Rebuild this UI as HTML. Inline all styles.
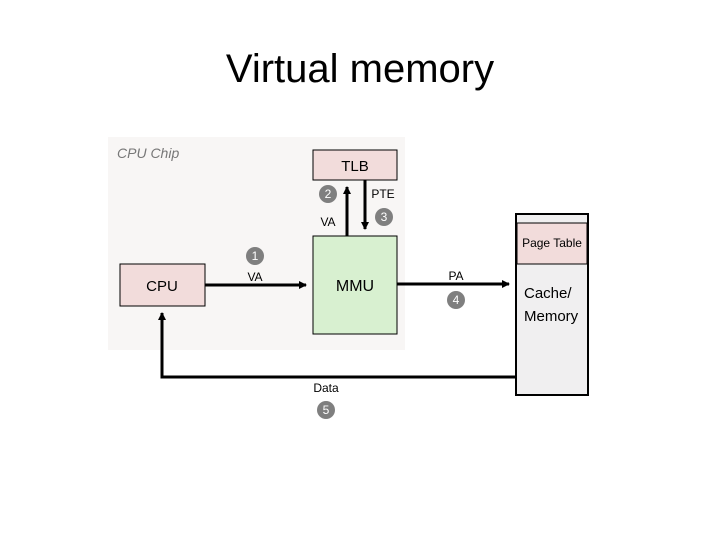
<!DOCTYPE html>
<html><head><style>body{margin:0;background:#fff}</style></head><body>
<svg width="720" height="540" xmlns="http://www.w3.org/2000/svg" font-family="Liberation Sans, sans-serif">
<defs><marker id="a" markerWidth="8" markerHeight="8" refX="7" refY="4" orient="auto" markerUnits="userSpaceOnUse"><path d="M0,0L8,4L0,8z" fill="#000"/></marker></defs>
<text x="360" y="82" font-size="40" text-anchor="middle" fill="#000">Virtual memory</text>
<rect x="108" y="137" width="297" height="213" fill="#f8f6f5"/>
<text x="117" y="158" font-size="14" font-style="italic" fill="#777">CPU Chip</text>
<rect x="313" y="150" width="84" height="30" fill="#f2dcdb" stroke="#000"/>
<text x="355" y="171" font-size="15" text-anchor="middle">TLB</text>
<rect x="120" y="264" width="85" height="42" fill="#f2dcdb" stroke="#000"/>
<text x="162" y="291" font-size="15" text-anchor="middle">CPU</text>
<rect x="313" y="236" width="84" height="98" fill="#d8f0d0" stroke="#000"/>
<text x="355" y="291" font-size="16" text-anchor="middle">MMU</text>
<rect x="516" y="214" width="72" height="181" fill="#f0eff0" stroke="#000" stroke-width="2"/>
<rect x="517" y="223" width="70" height="41" fill="#f2dcdb" stroke="#000"/>
<text x="552" y="247" font-size="12" text-anchor="middle">Page Table</text>
<text x="524" y="298" font-size="15">Cache/</text>
<text x="524" y="321" font-size="15">Memory</text>
<g stroke="#000" stroke-width="3" fill="none">
<line x1="205" y1="285" x2="306" y2="285" marker-end="url(#a)"/>
<line x1="397" y1="284" x2="509" y2="284" marker-end="url(#a)"/>
<line x1="347" y1="236" x2="347" y2="187" marker-end="url(#a)"/>
<line x1="365" y1="180" x2="365" y2="229" marker-end="url(#a)"/>
<polyline points="516,377 162,377 162,313" marker-end="url(#a)"/>
</g>
<g font-size="12" text-anchor="middle">
<text x="255" y="281">VA</text><text x="328" y="226">VA</text><text x="383" y="198">PTE</text>
<text x="456" y="280">PA</text><text x="326" y="392">Data</text>
</g>
<g fill="#7f7f7f"><circle cx="255" cy="256" r="9"/><circle cx="328" cy="194" r="9"/><circle cx="384" cy="217" r="9"/><circle cx="456" cy="300" r="9"/><circle cx="326" cy="410" r="9"/></g>
<g fill="#fff" font-size="12" text-anchor="middle">
<text x="255" y="260">1</text><text x="328" y="198">2</text><text x="384" y="221">3</text><text x="456" y="304">4</text><text x="326" y="414">5</text>
</g>
</svg>
</body></html>
